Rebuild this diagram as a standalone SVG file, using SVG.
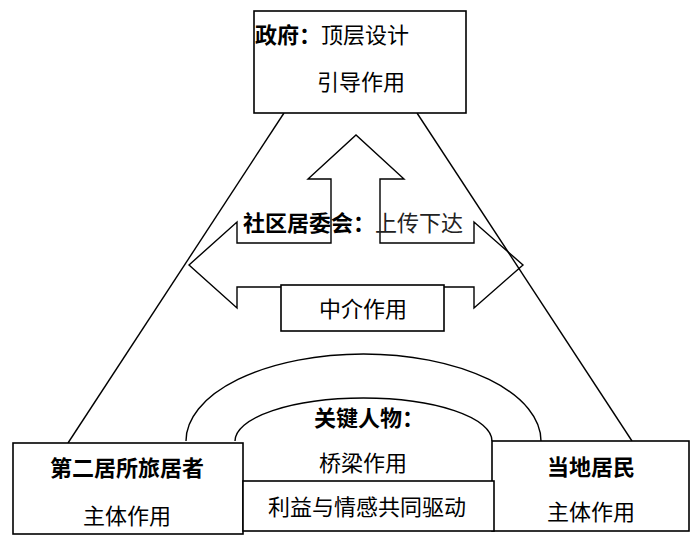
<svg xmlns="http://www.w3.org/2000/svg" width="700" height="544" viewBox="0 0 700 544">
<style>
.box{fill:#fff;stroke:#000;stroke-width:1.6}
.ln{fill:none;stroke:#000;stroke-width:1.4}
text{font-family:"Noto Sans CJK SC","Noto Sans",sans-serif;font-size:22px;fill:#000}
.b{font-weight:bold}
.t{fill:#222}
</style>
<rect width="700" height="544" fill="#fff"/>
<g id="connectors">
<line class="ln" x1="284" y1="113" x2="68" y2="443"/>
<line class="ln" x1="417" y1="113" x2="632" y2="441"/>
</g>
<g id="arrows">
<polygon class="ln" points="189,265 237,222 237,243 331,243 331,179 308,179 356,135 404,179 380,179 380,243 474,243 474,222 523,265 474,308 474,287 237,287 237,308"/>
<text x="243" y="231"><tspan class="b">社区居委会：</tspan><tspan class="t">上传下达</tspan></text>
</g>
<g id="gov">
<rect class="box" x="254" y="11" width="212" height="102"/>
<text x="255" y="43"><tspan class="b">政府：</tspan>顶层设计</text>
<text x="317" y="90">引导作用</text>
</g>
<g id="mediator">
<rect class="box" x="281" y="285" width="163" height="46"/>
<text x="319" y="317">中介作用</text>
</g>
<g id="keyperson">
<path class="ln" d="M186,441 A177.5,87 0 0 1 541,441"/>
<path class="ln" d="M235,441 A128.5,43 0 0 1 492,441"/>
<text class="b" x="314" y="426">关键人物：</text>
<text x="319" y="471">桥梁作用</text>
</g>
<g id="second-home">
<rect class="box" x="13" y="443" width="230" height="91"/>
<text class="b" x="50" y="476">第二居所旅居者</text>
<text x="83" y="524">主体作用</text>
</g>
<g id="local">
<rect class="box" x="492" y="441" width="197" height="90"/>
<text class="b" x="547" y="475">当地居民</text>
<text x="547" y="520">主体作用</text>
</g>
<g id="drive">
<rect class="box" x="243" y="481" width="251" height="50"/>
<text x="268" y="515">利益与情感共同驱动</text>
</g>
</svg>
